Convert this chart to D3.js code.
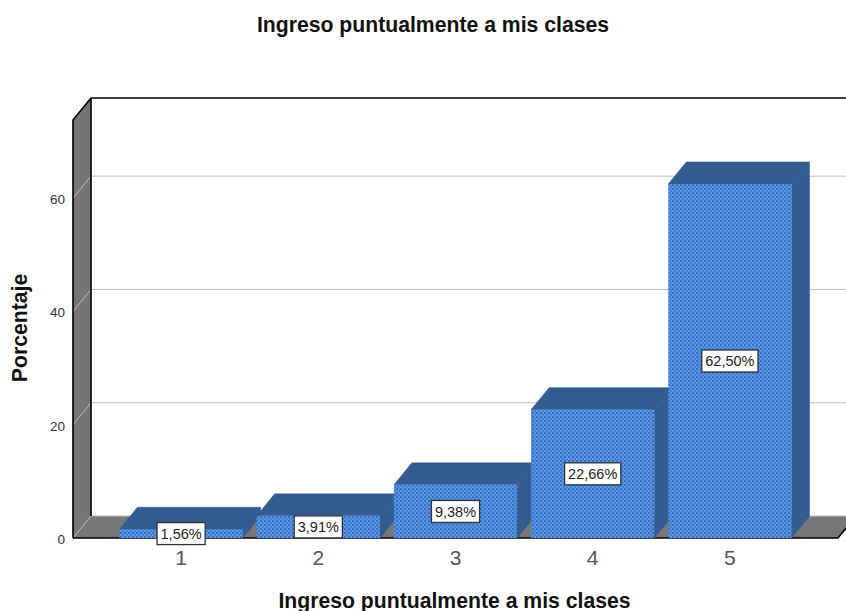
<!DOCTYPE html>
<html><head><meta charset="utf-8">
<script src="https://cdn.jsdelivr.net/npm/d3@7/dist/d3.min.js"></script>
<style>html,body{margin:0;background:#fff}svg{display:block;font-family:"Liberation Sans",Arial,sans-serif}</style>
</head><body><svg id="c" width="846" height="611"></svg>
<script>
const categories = ["1","2","3","4","5"];
const percentages = [1.56,3.91,9.38,22.66,62.50];
const barLabels = ["1,56%","3,91%","9,38%","22,66%","62,50%"];
const yTicks = [0,20,40,60];
const chartTitle = "Ingreso puntualmente a mis clases";
const xTitle = "Ingreso puntualmente a mis clases";
const yTitle = "Porcentaje";

const svg = d3.select("#c");
const dx = 18, dy = -22;
const left = 73, floorY = 538, topY = 120, rightEnd = 838;
const x = d3.scaleBand().domain(categories).range([112.5,798.5]).paddingInner(0.102).paddingOuter(0.051);
const y = d3.scaleLinear().domain([0,73.8]).range([floorY,topY]);
const line = d3.line();

const defs = svg.append("defs");
const pat = defs.append("pattern").attr("id","dither").attr("width",4).attr("height",4).attr("patternUnits","userSpaceOnUse");
pat.append("rect").attr("width",4).attr("height",4).attr("fill","#5596ee");
pat.append("rect").attr("x",0).attr("y",0).attr("width",2).attr("height",2).attr("fill","#3a6fb4").attr("shape-rendering","crispEdges");
pat.append("rect").attr("x",2).attr("y",2).attr("width",2).attr("height",2).attr("fill","#3a6fb4").attr("opacity",0.6).attr("shape-rendering","crispEdges");

// walls and floor
svg.append("path").attr("d",line([[left,y(0)],[left+dx,y(0)+dy],[860,y(0)+dy],[rightEnd+22,y(0)+dy],[rightEnd,y(0)]])+"Z").attr("fill","#777");
svg.append("path").attr("d",line([[left,topY],[left+dx,topY+dy],[left+dx,floorY+dy],[left,floorY]])+"Z").attr("fill","#757575");
// gridlines
const grid = svg.append("g").attr("stroke","#bdbdbd").attr("fill","none");
yTicks.forEach(t=>{
  grid.append("path").attr("d",line([[left,y(t)],[left+dx,y(t)+dy],[846,y(t)+dy]]));
});
// frame
const frame = svg.append("g").attr("fill","none").attr("stroke","#000").attr("stroke-width",1.6);
frame.append("path").attr("d",line([[left,floorY],[left,topY],[left+dx,topY+dy],[846,topY+dy]]));
frame.append("path").attr("d",line([[left+dx,topY+dy],[left+dx,floorY+dy]]));
frame.append("path").attr("d",line([[left,floorY],[rightEnd,floorY],[rightEnd+8,floorY-10]]));

// bars
const bars = svg.append("g").selectAll("g").data(categories).join("g");
bars.append("path").attr("fill","#335d91").attr("stroke","#2c5284").attr("stroke-width",0.5).attr("d",(c,i)=>{
  const a=x(c),b=a+x.bandwidth(),v=y(percentages[i]);
  return line([[a,v],[b,v],[b+dx,v+dy],[a+dx,v+dy]])+"Z";
});
bars.append("path").attr("fill","#335d91").attr("stroke","#2c5284").attr("stroke-width",0.5).attr("d",(c,i)=>{
  const b=x(c)+x.bandwidth(),v=y(percentages[i]);
  return line([[b,v],[b+dx,v+dy],[b+dx,floorY+dy],[b,floorY]])+"Z";
});
bars.append("rect").attr("x",c=>x(c)).attr("y",(c,i)=>y(percentages[i])).attr("width",x.bandwidth())
  .attr("height",(c,i)=>floorY-y(percentages[i])).attr("fill","url(#dither)");

// axes
const yAxis = svg.append("g").attr("transform",`translate(${left},1)`).call(d3.axisLeft(y).tickValues(yTicks).tickSize(0).tickPadding(8));
yAxis.select(".domain").remove();
yAxis.selectAll("text").attr("font-size",13.5).attr("fill","#333").attr("font-family","Liberation Sans");
const xAxis = svg.append("g").attr("transform",`translate(0,${floorY})`).call(d3.axisBottom(x).tickSize(0).tickPadding(12));
xAxis.select(".domain").remove();
xAxis.selectAll("text").attr("font-size",21).attr("fill","#555").attr("font-family","Liberation Sans");

// value labels
const labs = svg.append("g").selectAll("g").data(categories).join("g")
  .attr("transform",(c,i)=>`translate(${x(c)+x.bandwidth()/2},${y(percentages[i]/2)})`);
labs.append("rect").attr("fill","#fff").attr("stroke","#333").attr("stroke-width",1.3);
labs.append("text").attr("text-anchor","middle").attr("dy","0.36em").attr("font-size",14.5).attr("fill","#222").text((c,i)=>barLabels[i]);
labs.each(function(){
  const g=d3.select(this), w=g.select("text").node().getComputedTextLength();
  g.select("rect").attr("x",-w/2-3.5).attr("width",w+7).attr("y",-11).attr("height",22);
});

// titles
svg.append("text").attr("x",433).attr("y",32).attr("text-anchor","middle").attr("font-size",21.2).attr("font-weight","bold").attr("fill","#111").text(chartTitle);
svg.append("text").attr("x",454.5).attr("y",608).attr("text-anchor","middle").attr("font-size",21.2).attr("font-weight","bold").attr("fill","#111").text(xTitle);
svg.append("text").attr("transform","translate(27,328) rotate(-90)").attr("text-anchor","middle").attr("font-size",21.2).attr("font-weight","bold").attr("fill","#111").text(yTitle);
</script></body></html>
